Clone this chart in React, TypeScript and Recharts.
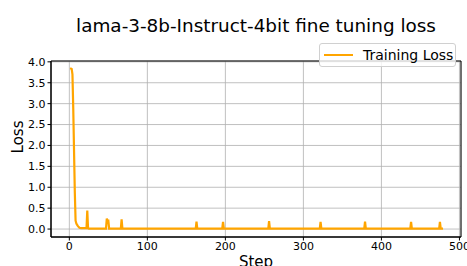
import { LineChart, Line, XAxis, YAxis, CartesianGrid, Legend, ReferenceArea } from 'recharts';

// training loss (sparse points: drop + spikes)
const steps = [1, 3, 4, 5, 6, 7, 8, 9, 10, 11, 13, 15, 22, 23, 24, 25, 47, 48, 49, 50, 51, 66, 67, 68, 162, 163, 164, 196, 197, 198, 255, 256, 257, 321, 322, 323, 378, 379, 380, 437, 438, 439, 474, 475, 476, 479];
const losses = [3.85, 3.83, 3.7, 2.9, 1.9, 0.9, 0.2, 0.13, 0.1, 0.07, 0.03, 0.02, 0.02, 0.44, 0.02, 0.01, 0.01, 0.25, 0.2, 0.2, 0.01, 0.01, 0.23, 0.01, 0.01, 0.18, 0.01, 0.01, 0.17, 0.01, 0.01, 0.19, 0.01, 0.01, 0.17, 0.01, 0.01, 0.18, 0.01, 0.01, 0.17, 0.01, 0.01, 0.17, 0.01, 0.01];

const xTicks = [0, 100, 200, 300, 400, 500];
const yTicks = [0, 0.5, 1, 1.5, 2, 2.5, 3, 3.5, 4];

const X_DOMAIN = [-23.5, 502];
const Y_DOMAIN = [-0.19, 4.02];

const data = steps.map((s, i) => ({ step: s, loss: losses[i] }));

const FONT = '"DejaVu Sans", sans-serif';

function LegendBox() {
  return (
    <div
      style={{
        boxSizing: 'border-box',
        width: 137,
        height: 24,
        border: '1px solid #d0d0d0',
        borderRadius: 3,
        background: 'rgba(255,255,255,0.8)',
        paddingLeft: 4,
        display: 'flex',
        alignItems: 'center',
        fontFamily: FONT,
        fontSize: 14,
        color: '#000',
        whiteSpace: 'nowrap',
      }}
    >
      <span style={{ display: 'inline-block', width: 29, height: 2, background: '#FFA500', marginRight: 10 }} />
      Training Loss
    </div>
  );
}

export default function App() {
  return (
    <div style={{ position: 'relative', width: 467, height: 266, overflow: 'hidden', background: '#fff' }}>
      <style>{'body{margin:0}'}</style>
      <LineChart
        width={467}
        height={266}
        data={data}
        margin={{ top: 37, right: 6, left: 0, bottom: 0 }}
        style={{ position: 'absolute', left: 0, top: 0 }}
      >
        <CartesianGrid stroke="#b0b0b0" strokeWidth={0.8} />
        <XAxis
          dataKey="step"
          type="number"
          domain={X_DOMAIN}
          ticks={xTicks}
          allowDataOverflow
          height={29}
          interval={0}
          tick={{ fill: '#000', fontSize: 11, fontFamily: FONT }}
          tickLine={{ stroke: '#000' }}
          tickSize={3.5}
          axisLine={{ stroke: '#000' }}
        />
        <YAxis
          type="number"
          domain={Y_DOMAIN}
          ticks={yTicks}
          allowDataOverflow
          width={51}
          interval={0}
          tickFormatter={(v: number) => v.toFixed(1)}
          tick={{ fill: '#000', fontSize: 11, fontFamily: FONT }}
          tickLine={{ stroke: '#000' }}
          tickSize={3.5}
          axisLine={{ stroke: '#000' }}
        />
        <ReferenceArea
          x1={X_DOMAIN[0]}
          x2={X_DOMAIN[1]}
          y1={Y_DOMAIN[0]}
          y2={Y_DOMAIN[1]}
          fill="none"
          stroke="#000"
          strokeWidth={1}
          ifOverflow="visible"
        />
        <Line
          type="linear"
          dataKey="loss"
          stroke="#FFA500"
          strokeWidth={2.2}
          dot={false}
          isAnimationActive={false}
        />
        <Legend
          verticalAlign="top"
          align="right"
          content={() => <LegendBox />}
          wrapperStyle={{ top: 43, left: 319, width: 'auto' }}
        />
      </LineChart>
      <svg
        width={467}
        height={266}
        style={{ position: 'absolute', left: 0, top: 0, pointerEvents: 'none' }}
        fontFamily={FONT}
        fill="#000"
      >
        <text x={256} y={32.3} textAnchor="middle" fontSize={18.4}>
          lama-3-8b-Instruct-4bit fine tuning loss
        </text>
        <text transform="translate(23,137) rotate(-90)" textAnchor="middle" fontSize={15}>
          Loss
        </text>
        <text x={256} y={266.6} textAnchor="middle" fontSize={15}>
          Step
        </text>
      </svg>
    </div>
  );
}
